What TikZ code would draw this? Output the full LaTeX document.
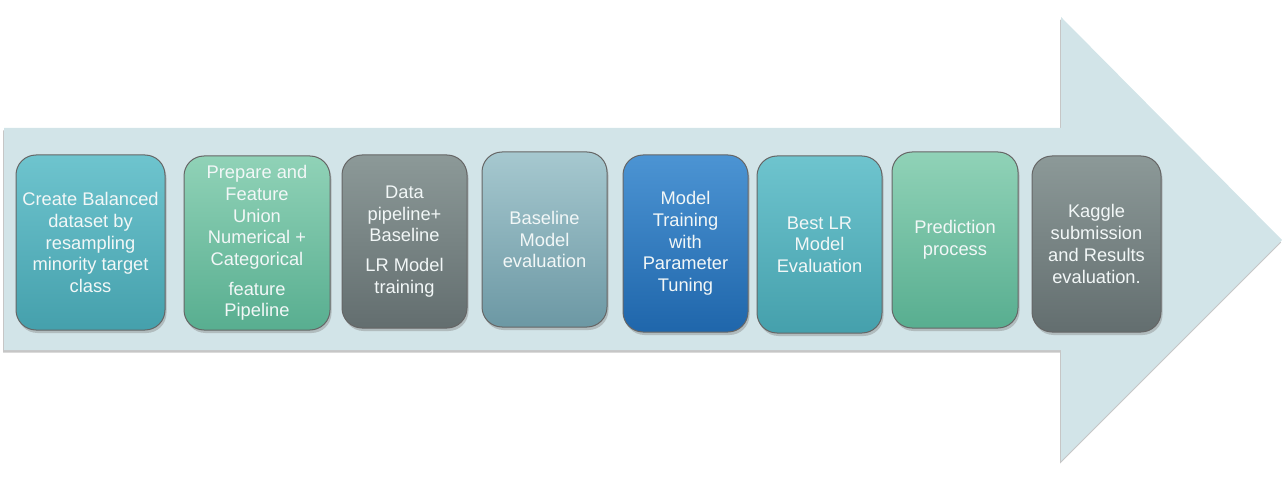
\documentclass[tikz,border=0pt]{standalone}
\usepackage{fontspec}
\setmainfont{Liberation Sans}
\usetikzlibrary{shadows}
\definecolor{arrowfill}{HTML}{D2E4E8}
\definecolor{tealT}{HTML}{6EC4CE}
\definecolor{tealB}{HTML}{45A0AC}
\definecolor{greenT}{HTML}{90D2B7}
\definecolor{greenB}{HTML}{58AE90}
\definecolor{grayT}{HTML}{8C9998}
\definecolor{grayB}{HTML}{636E6F}
\definecolor{paleT}{HTML}{A6C8CF}
\definecolor{paleB}{HTML}{6C98A4}
\definecolor{blueT}{HTML}{4C94D3}
\definecolor{blueB}{HTML}{1F66AB}
\definecolor{txt}{HTML}{F2F7F7}
\tikzset{
  stagebox/.style={rounded corners=20pt, draw=black!60, line width=1pt,
    text=txt, align=center, inner sep=0pt,
    font=\fontsize{18.3}{21.7}\selectfont,
    drop shadow={opacity=0.4, shadow xshift=1.5pt, shadow yshift=-3pt}},
  tealbox/.style={stagebox, top color=tealT, bottom color=tealB},
  greenbox/.style={stagebox, top color=greenT, bottom color=greenB},
  graybox/.style={stagebox, top color=grayT, bottom color=grayB},
  palebox/.style={stagebox, top color=paleT, bottom color=paleB},
  bluebox/.style={stagebox, top color=blueT, bottom color=blueB},
}
\begin{document}
\begin{tikzpicture}[x=1pt,y=-1pt]
\useasboundingbox (0,0) rectangle (1287,489);
% big arrow
\fill[arrowfill, drop shadow={opacity=0.45, shadow xshift=-1pt, shadow yshift=-2.5pt}]
  (4,128) -- (1061,128) -- (1061,17) -- (1282,240) -- (1061,461) -- (1061,350) -- (4,350) -- cycle;
% stages
\node[tealbox, minimum width=149pt, minimum height=175pt] (s1) at (90.5,242.5)
  {Create Balanced\\dataset by\\resampling\\minority target\\class};
\node[greenbox, minimum width=146pt, minimum height=174pt] (s2) at (257,243)
  {Prepare and\\Feature\\Union\\Numerical +\\Categorical\\[8pt]feature\\Pipeline};
\node[graybox, minimum width=125pt, minimum height=173pt] (s3) at (404.5,241.5)
  {Data\\pipeline+\\Baseline\\[8pt]LR Model\\training};
\node[palebox, minimum width=125pt, minimum height=175pt] (s4) at (544.5,239.5)
  {Baseline\\Model\\evaluation};
\node[bluebox, minimum width=125pt, minimum height=177pt] (s5) at (685.5,243.5)
  {Model\\Training\\with\\Parameter\\Tuning};
\node[tealbox, minimum width=125pt, minimum height=177pt] (s6) at (819.5,244.5)
  {Best LR\\Model\\Evaluation};
\node[greenbox, minimum width=126pt, minimum height=176pt] (s7) at (955,240)
  {Prediction\\process};
\node[graybox, minimum width=129pt, minimum height=176pt] (s8) at (1096.5,244)
  {Kaggle\\submission\\and Results\\evaluation.};
\end{tikzpicture}
\end{document}
